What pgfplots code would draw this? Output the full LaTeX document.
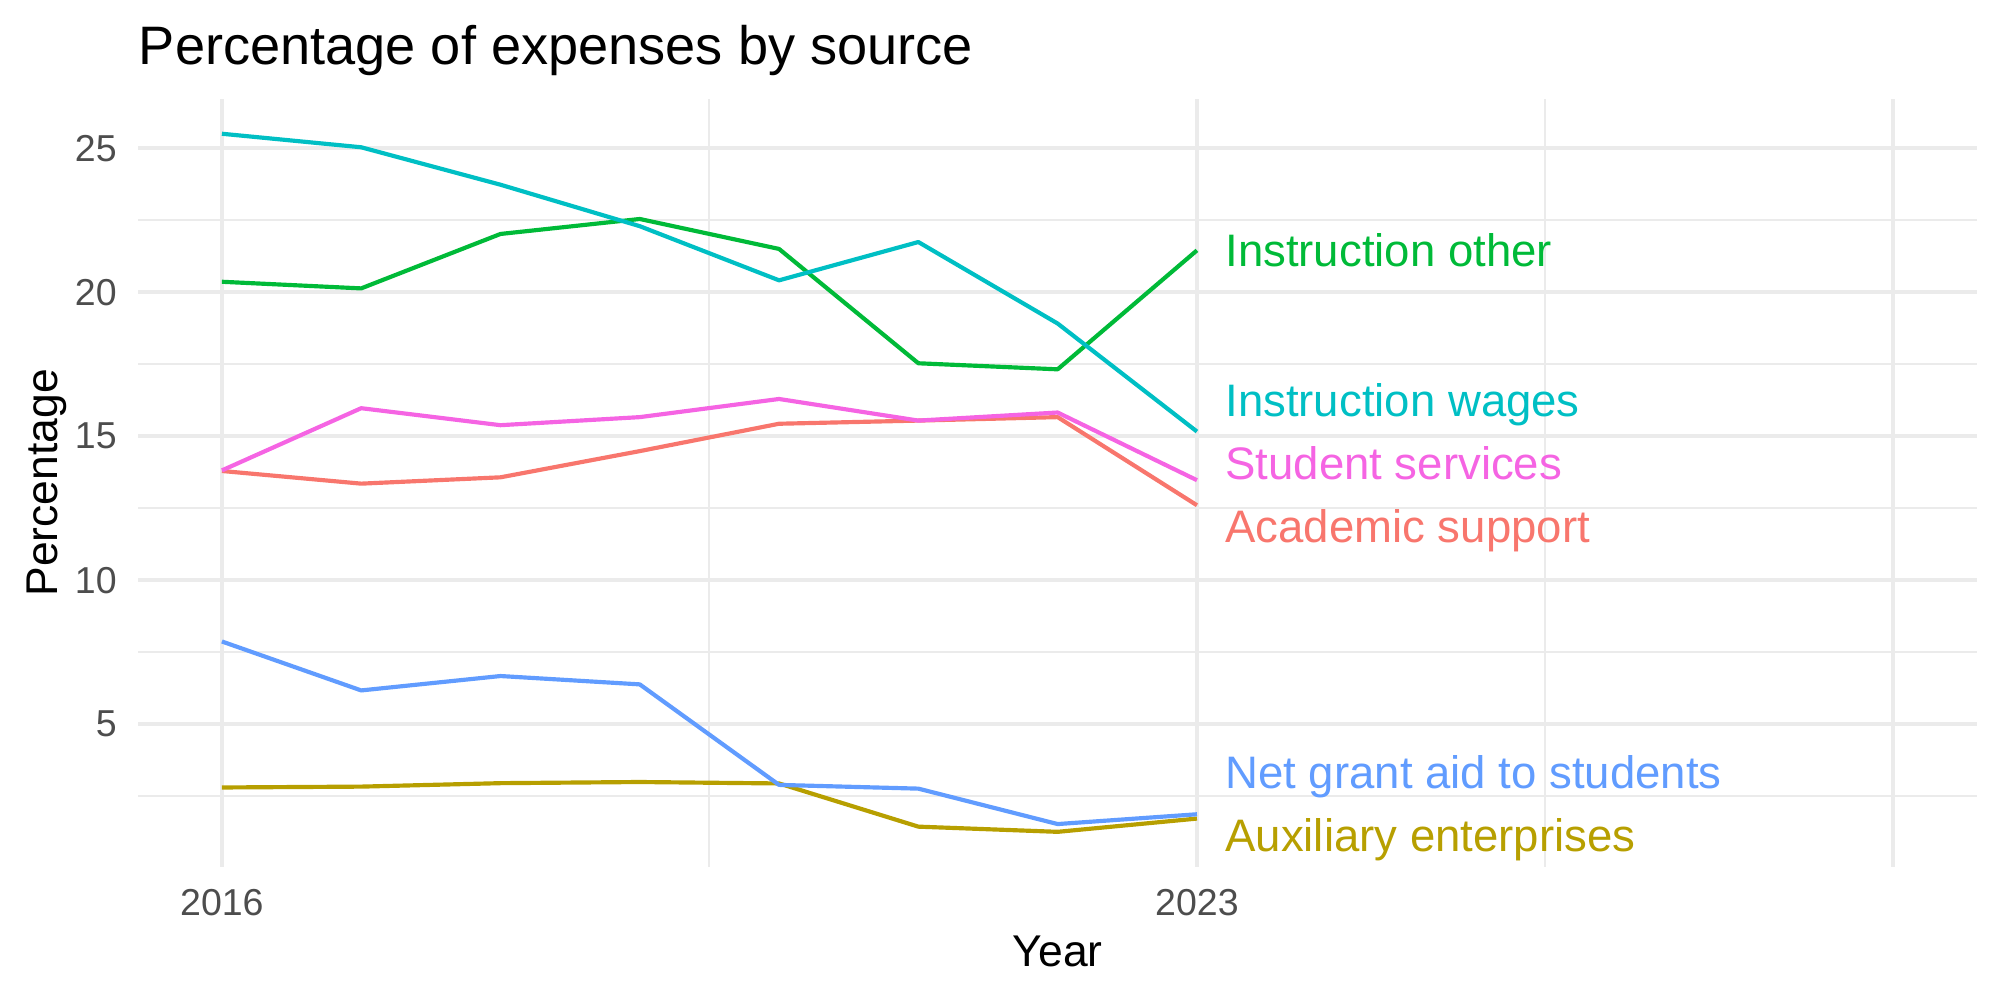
\documentclass[border=0pt]{standalone}
\usepackage{fontspec}
\setmainfont{Liberation Sans}
\usepackage{pgfplots}
\pgfplotsset{compat=1.18}
\definecolor{cAS}{HTML}{F8766D}
\definecolor{cAE}{HTML}{B79F00}
\definecolor{cIO}{HTML}{00BA38}
\definecolor{cIW}{HTML}{00BFC4}
\definecolor{cNG}{HTML}{619CFF}
\definecolor{cSS}{HTML}{F564E3}
\definecolor{gridc}{HTML}{EBEBEB}
\definecolor{tickc}{HTML}{4D4D4D}
\begin{document}
\begin{tikzpicture}
\useasboundingbox (-49.8pt,-48pt) rectangle (670.2pt,312pt);
\begin{axis}[
  at={(0,0)}, anchor=south west,
  scale only axis, width=661.9pt, height=276.4pt,
  xmin=2015.4, xmax=2028.6, ymin=0.05, ymax=26.71,
  axis line style={draw=none}, tick style={draw=none},
  xtick={2016,2023,2028}, xticklabels={2016,2023,{}},
  minor xtick={2019.5,2025.5},
  ytick={5,10,15,20,25}, minor ytick={2.5,7.5,12.5,17.5,22.5},
  grid=both,
  major grid style={draw=gridc, line width=1.4pt},
  minor grid style={draw=gridc, line width=0.7pt},
  /pgf/number format/assume math mode=true,
  /pgf/number format/1000 sep={},
  ticklabel style={font=\fontsize{13.5}{16}\selectfont, text=tickc, inner sep=0pt},
  xticklabel style={anchor=north, yshift=-8pt},
  yticklabel style={anchor=east, xshift=-7.6pt},
  xlabel={Year}, ylabel={Percentage},
  xlabel style={at={(axis description cs:0.5,-0.1302)}, anchor=base, inner sep=0pt, font=\fontsize{16}{19}\selectfont},
  ylabel style={at={(axis description cs:-0.0441,0.5)}, anchor=base, inner sep=0pt, font=\fontsize{16}{19}\selectfont},
  title={Percentage of expenses by source},
  every axis title/.style={at={(axis description cs:0,1.0452)}, anchor=base west, inner sep=0pt, font=\fontsize{19.5}{23}\selectfont},
  every axis plot/.append style={line width=1.5pt, line join=round, mark=none},
]
% Academic support
\addplot[cAS] coordinates {(2016,13.79) (2017,13.35) (2018,13.57) (2019,14.48) (2020,15.43) (2021,15.54) (2022,15.66) (2023,12.60)};
% Auxiliary enterprises
\addplot[cAE] coordinates {(2016,2.80) (2017,2.83) (2018,2.95) (2019,2.99) (2020,2.94) (2021,1.44) (2022,1.26) (2023,1.72)};
% Instruction other
\addplot[cIO] coordinates {(2016,20.36) (2017,20.13) (2018,22.02) (2019,22.54) (2020,21.50) (2021,17.53) (2022,17.32) (2023,21.45)};
% Instruction wages
\addplot[cIW] coordinates {(2016,25.50) (2017,25.03) (2018,23.73) (2019,22.29) (2020,20.41) (2021,21.74) (2022,18.91) (2023,15.16)};
% Net grant aid to students
\addplot[cNG] coordinates {(2016,7.87) (2017,6.17) (2018,6.67) (2019,6.38) (2020,2.89) (2021,2.76) (2022,1.53) (2023,1.87)};
% Student services
\addplot[cSS] coordinates {(2016,13.81) (2017,15.97) (2018,15.38) (2019,15.66) (2020,16.29) (2021,15.54) (2022,15.82) (2023,13.47)};

\begin{scope}[every node/.style={anchor=base west, inner sep=0pt, font=\fontsize{16.4}{19}\selectfont}]
\node[text=cIO] at (axis cs:2023.2,20.88) {Instruction other};
\node[text=cIW] at (axis cs:2023.2,15.67) {Instruction wages};
\node[text=cSS] at (axis cs:2023.2,13.51) {Student services};
\node[text=cAS] at (axis cs:2023.2,11.31) {Academic support};
\node[text=cNG] at (axis cs:2023.2,2.77) {Net grant aid to students};
\node[text=cAE] at (axis cs:2023.2,0.59) {Auxiliary enterprises};
\end{scope}
\end{axis}
\end{tikzpicture}
\end{document}
